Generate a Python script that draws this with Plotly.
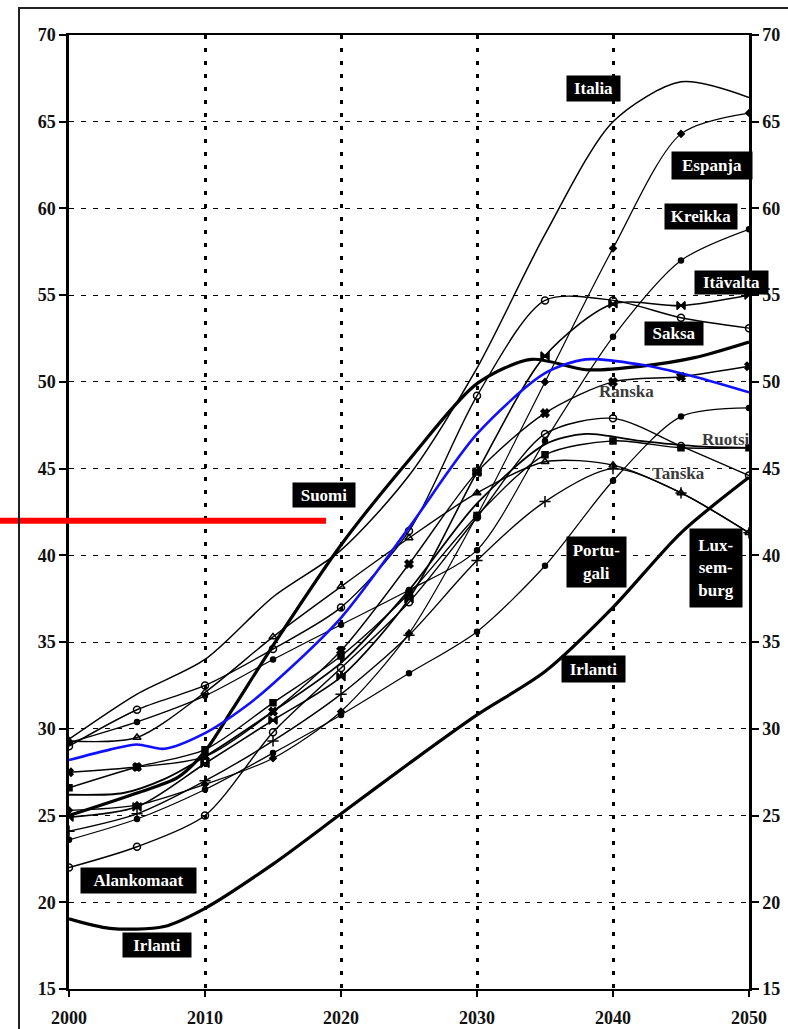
import plotly.graph_objects as go

# Vuodet (viiden vuoden välein) merkeillä piirretyille sarjoille
YEARS = [2000, 2005, 2010, 2015, 2020, 2025, 2030, 2035, 2040, 2045, 2050]

ESPANJA = [25.3, 25.6, 26.8, 28.3, 31.0, 35.5, 42.3, 50.0, 57.7, 64.3, 65.5]
KREIKKA = [29.2, 30.4, 31.9, 34.0, 36.0, 38.0, 40.3, 46.6, 52.6, 57.0, 58.8]
PORTUGALI = [23.6, 24.8, 26.5, 28.6, 30.8, 33.2, 35.6, 39.4, 44.3, 48.0, 48.5]
ITAVALTA = [24.9, 25.5, 28.0, 30.5, 33.0, 37.5, 44.8, 51.5, 54.5, 54.4, 55.0]
SAKSA = [29.0, 31.1, 32.5, 34.6, 37.0, 41.4, 49.2, 54.7, 54.7, 53.7, 53.1]
ALANKOMAAT = [22.0, 23.2, 25.0, 29.8, 33.5, 37.3, 42.2, 47.0, 47.9, 46.3, 44.6]
RANSKA = [27.5, 27.8, 28.4, 31.0, 34.5, 39.5, 44.8, 48.2, 50.0, 50.3, 50.9]
RUOTSI = [26.6, 27.8, 28.8, 31.5, 34.2, 37.8, 42.3, 45.8, 46.6, 46.2, 46.2]
TANSKA = [29.3, 29.5, 32.1, 35.3, 38.2, 41.0, 43.6, 45.4, 45.2, 43.6, 41.3]
LUXEMBURG = [24.1, 25.1, 27.0, 29.3, 32.0, 35.4, 39.7, 43.1, 45.0, 43.6, 41.3]

# Merkittömät viivat omilla vuosillaan
ITALIA_YEARS = [2000, 2005, 2010, 2015, 2020, 2025, 2030, 2035, 2040, 2045, 2050]
ITALIA = [29.4, 32.0, 34.0, 37.6, 40.3, 44.6, 50.8, 58.5, 65.0, 67.3, 66.4]

SUOMI_YEARS = [2000, 2005, 2008, 2010, 2012, 2015, 2020, 2025, 2030, 2034, 2038, 2042, 2046, 2050]
SUOMI = [25.0, 26.3, 27.2, 28.7, 31.1, 34.8, 40.6, 45.5, 49.9, 51.3, 50.7, 50.9, 51.4, 52.3]

IRLANTI_YEARS = [2000, 2003, 2007, 2010, 2015, 2020, 2025, 2030, 2035, 2040, 2045, 2050]
IRLANTI = [19.05, 18.5, 18.6, 19.65, 22.2, 25.1, 28.0, 30.8, 33.3, 37.0, 41.3, 44.5]

BELGIA_YEARS = [2000, 2004, 2007, 2010, 2015, 2020, 2025, 2030, 2035, 2038, 2042, 2046, 2050]
BELGIA = [26.2, 26.3, 27.1, 28.4, 31.0, 33.8, 38.0, 43.0, 46.4, 47.0, 46.6, 46.3, 46.2]

EU_YEARS = [2000, 2003, 2005, 2007, 2010, 2013, 2015, 2020, 2025, 2030, 2035, 2038, 2042, 2046, 2050]
EU15 = [28.2, 28.8, 29.1, 28.85, 29.75, 31.3, 32.6, 36.4, 41.6, 47.0, 50.5, 51.3, 51.0, 50.3, 49.4]

# Punainen viiva (Suomen taso)
RED_LEVEL = 42.0
RED_END_YEAR = 2018.9

X_MIN, X_MAX = 2000, 2050
Y_MIN, Y_MAX = 15, 70

SERIF = "Liberation Serif"

fig = go.Figure()

marked = [
    ("Espanja", ESPANJA, "diamond", 5, 1.2),
    ("Kreikka", KREIKKA, "circle", 5, 1.2),
    ("Portugali", PORTUGALI, "circle", 5, 1.2),
    ("Itävalta", ITAVALTA, "bowtie", 8, 1.6),
    ("Saksa", SAKSA, "circle-open", 7, 1.4),
    ("Alankomaat", ALANKOMAAT, "circle-open", 7, 1.4),
    ("Ranska", RANSKA, "x", 7, 1.4),
    ("Ruotsi", RUOTSI, "square", 6, 1.4),
    ("Tanska", TANSKA, "triangle-up-open", 7, 1.4),
    ("Luxemburg", LUXEMBURG, "cross-thin-open", 8, 1.4),
]

for name, vals, symbol, size, width in marked:
    fig.add_trace(go.Scatter(
        x=YEARS, y=vals, name=name, mode="lines+markers",
        line=dict(color="black", width=width, shape="spline", smoothing=0.8),
        marker=dict(symbol=symbol, size=size, color="black",
                    line=dict(color="black", width=1.5)),
    ))

plain = [
    ("Belgia", BELGIA_YEARS, BELGIA, 1.8, "black"),
    ("Italia", ITALIA_YEARS, ITALIA, 1.5, "black"),
    ("Irlanti", IRLANTI_YEARS, IRLANTI, 3.2, "black"),
    ("Suomi", SUOMI_YEARS, SUOMI, 3.2, "black"),
    ("EU15", EU_YEARS, EU15, 2.6, "#1010ff"),
]

for name, yrs, vals, width, color in plain:
    fig.add_trace(go.Scatter(
        x=yrs, y=vals, name=name, mode="lines",
        line=dict(color=color, width=width, shape="spline", smoothing=0.8),
    ))

# näkymätön sarja oikean akselin näyttämiseksi
fig.add_trace(go.Scatter(x=[X_MIN], y=[Y_MIN], yaxis="y2", mode="markers",
                         marker=dict(opacity=0), hoverinfo="skip", showlegend=False))

# Mustat nimilaatikot: (teksti, vuosi, arvo, leveys px, korkeus px)
boxed = [
    ("Italia", 2038.57, 66.89, 53, 25),
    ("Espanja", 2047.28, 62.45, 80, 27),
    ("Kreikka", 2046.47, 59.54, 72, 25),
    ("Itävalta", 2048.71, 55.76, 73, 23),
    ("Saksa", 2044.49, 52.77, 58, 23),
    ("Suomi", 2018.75, 43.46, 62, 24),
    ("Portu-<br>gali", 2038.79, 39.63, 59, 50),
    ("Lux-<br>sem-<br>burg", 2047.57, 39.28, 52, 78),
    ("Irlanti", 2038.57, 33.43, 63, 26),
    ("Alankomaat", 2005.11, 21.27, 115, 25),
    ("Irlanti", 2006.47, 17.51, 68, 24),
]
for text, xv, yv, w, h in boxed:
    fig.add_annotation(
        x=xv, y=yv, xref="x", yref="y", text=text, showarrow=False,
        width=w, height=h, bgcolor="black", borderpad=0, align="center",
        font=dict(family=SERIF, size=17, color="white", weight="bold"),
    )

# Harmaat nimet ilman laatikkoa
loose = [
    ("Ranska", 2040.96, 49.45),
    ("Ruotsi", 2048.3, 46.69),
    ("Tanska", 2044.8, 44.73),
]
for text, xv, yv in loose:
    fig.add_annotation(
        x=xv, y=yv, xref="x", yref="y", text=text, showarrow=False,
        font=dict(family=SERIF, size=17, color="#3a3a3a", weight="bold"),
    )


def px_x(year):
    return (year - X_MIN) / (X_MAX - X_MIN)


def px_y(val):
    return (val - Y_MIN) / (Y_MAX - Y_MIN)


PLOT_L, PLOT_R, PLOT_T, PLOT_B = 69, 39, 35, 40
W, H = 788, 1029
plot_w = W - PLOT_L - PLOT_R
plot_h = H - PLOT_T - PLOT_B

# punainen viiva kuvan vasemmasta reunasta
fig.add_shape(type="line", xref="paper", yref="paper",
              x0=-PLOT_L / plot_w, x1=px_x(RED_END_YEAR),
              y0=px_y(RED_LEVEL), y1=px_y(RED_LEVEL),
              line=dict(color="#ff0000", width=6))

# ulkokehys
fig.add_shape(type="rect", xref="paper", yref="paper",
              x0=(19 - PLOT_L) / plot_w, x1=1.2,
              y0=-0.2, y1=1 + (PLOT_T - 8) / plot_h,
              line=dict(color="#222222", width=2))

tickfont = dict(family=SERIF, size=18, color="#111111", weight="bold")

fig.update_layout(
    width=W, height=H,
    margin=dict(l=PLOT_L, r=PLOT_R, t=PLOT_T, b=PLOT_B),
    paper_bgcolor="white", plot_bgcolor="white",
    showlegend=False,
    xaxis=dict(
        range=[X_MIN, X_MAX], tickvals=list(range(2000, 2051, 10)),
        showline=True, linecolor="black", linewidth=2, mirror=True,
        ticks="outside", ticklen=6, tickwidth=1.5, tickcolor="black",
        ticklabelstandoff=5, automargin=False,
        showgrid=True, gridcolor="black", gridwidth=3, griddash="4px,9px",
        zeroline=False, tickfont=tickfont,
    ),
    yaxis=dict(
        range=[Y_MIN, Y_MAX], dtick=5, automargin=False,
        showline=True, linecolor="black", linewidth=2.5,
        ticks="outside", ticklen=7, tickwidth=1.5, tickcolor="black",
        showgrid=True, gridcolor="black", gridwidth=1.2, griddash="5px,7px",
        zeroline=False, tickfont=tickfont,
    ),
    yaxis2=dict(
        range=[Y_MIN, Y_MAX], dtick=5, overlaying="y", side="right",
        automargin=False,
        showline=True, linecolor="black", linewidth=2.5,
        ticks="outside", ticklen=7, tickwidth=1.5, tickcolor="black",
        showgrid=False, zeroline=False, tickfont=tickfont,
    ),
)

fig.write_html("out.html", config={"displayModeBar": False},
               post_script="document.body.style.margin='0';")
